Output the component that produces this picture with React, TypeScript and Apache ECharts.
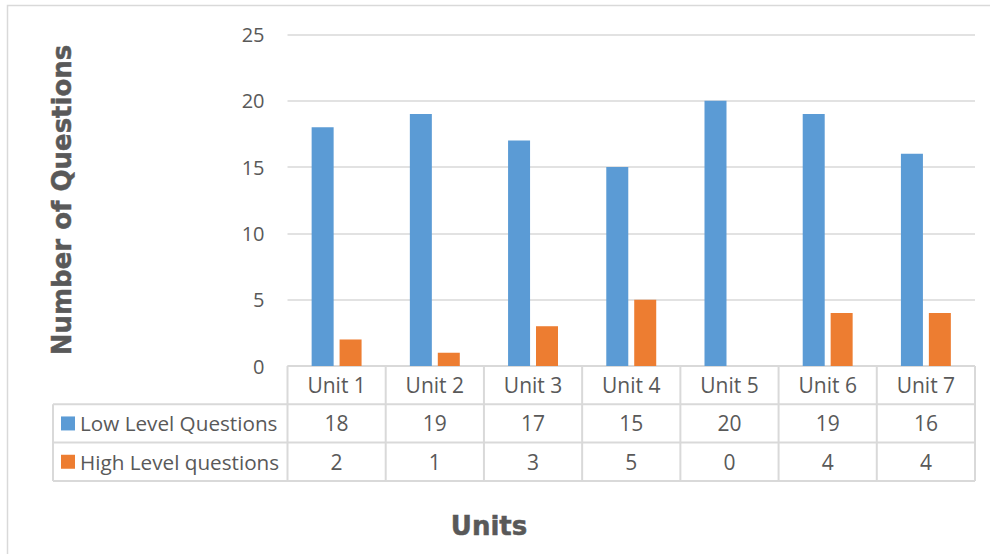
import React, { useEffect, useRef } from "react";
import * as echarts from "echarts";

const categories = ["Unit 1", "Unit 2", "Unit 3", "Unit 4", "Unit 5", "Unit 6", "Unit 7"];
const lowLevel = [18, 19, 17, 15, 20, 19, 16];
const highLevel = [2, 1, 3, 5, 0, 4, 4];
const seriesNames = ["Low Level Questions", "High Level questions"];
const seriesColors = ["#5B9BD5", "#ED7D31"];
const yTicks = { min: 0, max: 25, interval: 5 };

const W = 990;
const H = 554;
const PL = 287.5;
const PR = 975;
const PT = 34.5;
const PB = 366;
const ROW = 38.3;
const TL = 53;
const TEXT = "#595959";
const LINE = "#D9D9D9";
const FONT = "'Open Sans', 'Noto Sans', sans-serif";

export default function App() {
  const ref = useRef<HTMLDivElement>(null);
  useEffect(() => {
    if (!ref.current) return;
    const chart = echarts.init(ref.current, null, { renderer: "svg" });
    const colW = (PR - PL) / categories.length;
    const y1 = PB + ROW;
    const y2 = PB + 2 * ROW;
    const y3 = PB + 3 * ROW;
    const g: any[] = [];
    // outer border
    g.push({
      type: "rect",
      shape: { x: 7.5, y: 5.5, width: 1000, height: 600 },
      style: { fill: "none", stroke: LINE, lineWidth: 1.5 },
      silent: true,
    });
    // table horizontal lines
    [y1, y2, y3].forEach((y) => {
      g.push({ type: "line", shape: { x1: TL, y1: y, x2: PR, y2: y }, style: { stroke: LINE, lineWidth: 2 } });
    });
    g.push({ type: "line", shape: { x1: PL, y1: PB, x2: PR, y2: PB }, style: { stroke: LINE, lineWidth: 2 } });
    g.push({ type: "line", shape: { x1: TL, y1: y1, x2: TL, y2: y3 }, style: { stroke: LINE, lineWidth: 2 } });
    for (let i = 0; i <= categories.length; i++) {
      const x = PL + i * colW;
      g.push({ type: "line", shape: { x1: x, y1: PB, x2: x, y2: y3 }, style: { stroke: LINE, lineWidth: 2 } });
    }
    const rows = [categories, lowLevel.map(String), highLevel.map(String)];
    rows.forEach((row, r) => {
      const cy = PB + (r + 0.5) * ROW;
      row.forEach((t, i) => {
        g.push({
          type: "text",
          x: PL + (i + 0.5) * colW,
          y: cy,
          style: { text: t, fill: TEXT, font: `21px ${FONT}`, align: "center", verticalAlign: "middle" },
        });
      });
    });
    seriesNames.forEach((n, i) => {
      const cy = PB + (i + 1.5) * ROW;
      g.push({ type: "rect", shape: { x: 61, y: cy - 7, width: 14, height: 14 }, style: { fill: seriesColors[i] } });
      g.push({
        type: "text",
        x: 80,
        y: cy,
        style: { text: n, fill: TEXT, font: `20.7px ${FONT}`, align: "left", verticalAlign: "middle" },
      });
    });
    const titleStyle = {
      fill: TEXT,
      stroke: TEXT,
      lineWidth: 0.5,
      font: "bold 26px 'DejaVu Sans', sans-serif",
      align: "center",
      verticalAlign: "middle",
    };
    g.push({
      type: "text",
      x: 62,
      y: 200,
      rotation: Math.PI / 2,
      style: { ...titleStyle, text: "Number of Questions" },
    });
    g.push({
      type: "text",
      x: 489,
      y: 526,
      style: { ...titleStyle, text: "Units" },
    });

    chart.setOption({
      animation: false,
      grid: { left: PL, right: W - PR, top: PT, bottom: H - PB, containLabel: false },
      xAxis: {
        type: "category",
        data: categories,
        axisLine: { show: false },
        axisTick: { show: false },
        axisLabel: { show: false },
      },
      yAxis: {
        type: "value",
        min: yTicks.min,
        max: yTicks.max,
        interval: yTicks.interval,
        axisLine: { show: false },
        axisTick: { show: false },
        axisLabel: { color: TEXT, fontSize: 20, fontFamily: FONT, margin: 23 },
        splitLine: { lineStyle: { color: LINE, width: 1.5 } },
      },
      series: [
        {
          name: seriesNames[0],
          type: "bar",
          data: lowLevel,
          barWidth: 22,
          barGap: "27%",
          itemStyle: { color: seriesColors[0] },
        },
        {
          name: seriesNames[1],
          type: "bar",
          data: highLevel,
          barWidth: 22,
          barGap: "27%",
          itemStyle: { color: seriesColors[1] },
        },
      ],
      graphic: g,
    });
    return () => chart.dispose();
  }, []);
  return (
    <div
      ref={ref}
      style={{ position: "fixed", left: 0, top: 0, width: W, height: H, background: "#fff" }}
    />
  );
}
